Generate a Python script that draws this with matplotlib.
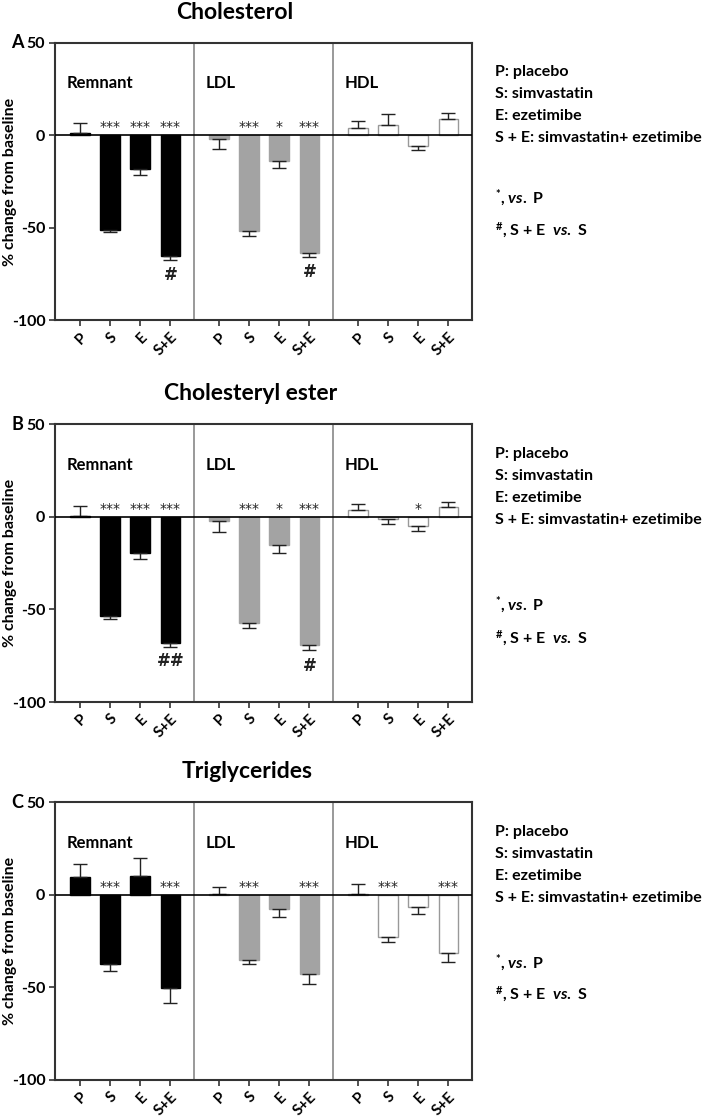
import matplotlib
matplotlib.use("Agg")
import matplotlib.pyplot as plt
import numpy as np

plt.rcParams['font.family'] = ['Lato', 'DejaVu Sans']
plt.rcParams['mathtext.fontset'] = 'custom'
plt.rcParams['mathtext.rm'] = 'Lato:bold'
plt.rcParams['mathtext.it'] = 'Lato:italic:bold'
plt.rcParams['mathtext.bf'] = 'Lato:bold'

treatments = ["P", "S", "E", "S+E"]
fractions = ["Remnant", "LDL", "HDL"]
panel_titles = ["Cholesterol", "Cholesteryl ester", "Triglycerides"]
panel_letters = ["A", "B", "C"]

# mean % change, per panel -> fraction -> treatment
means = [
    [[1.3, -51.2, -18.5, -65.3], [-2.0, -51.8, -14.0, -63.8], [3.9, 5.4, -5.8, 8.5]],
    [[0.7, -53.6, -19.7, -68.3], [-2.3, -57.2, -15.3, -69.2], [3.6, -1.4, -5.0, 5.1]],
    [[9.4, -37.2, 10.1, -50.3], [0.5, -35.0, -7.9, -42.6], [0.5, -23.0, -6.6, -31.6]],
]
errors = [
    [[5.4, 1.2, 3.2, 2.1], [5.2, 2.5, 3.6, 2.2], [3.5, 5.8, 2.3, 3.5]],
    [[5.4, 1.4, 3.3, 1.8], [5.8, 2.7, 4.1, 2.7], [3.2, 2.7, 2.7, 3.0]],
    [[7.2, 4.0, 9.9, 8.0], [3.8, 2.2, 4.0, 5.7], [5.5, 2.5, 4.0, 4.7]],
]
stars = [
    [["", "***", "***", "***"], ["", "***", "*", "***"], ["", "", "", ""]],
    [["", "***", "***", "***"], ["", "***", "*", "***"], ["", "", "*", ""]],
    [["", "***", "", "***"], ["", "***", "", "***"], ["", "***", "", "***"]],
]
hashes = [
    [["", "", "", "#"], ["", "", "", "#"], ["", "", "", ""]],
    [["", "", "", "##"], ["", "", "", "#"], ["", "", "", ""]],
    [["", "", "", ""], ["", "", "", ""], ["", "", "", ""]],
]
hash_y = [[-75.5, -73.7], [-77.8, -80.4], [0, 0]]

legend_lines = ["P: placebo", "S: simvastatin", "E: ezetimibe", "S + E: simvastatin+ ezetimibe"]
note_y = [(-34, -51.5), (-48, -65.5), (-37, -54)]
title_x = [0.43, 0.47, 0.46]

face_colors = ["black", "#a3a3a3", "white"]
edge_colors = ["black", "#a3a3a3", "#999999"]

fig = plt.figure(figsize=(7.09, 11.18), dpi=100)
axes_bottoms = [0.7134, 0.372, 0.034]

group_w = 4.6
for p in range(3):
    ax = fig.add_axes([0.0776, axes_bottoms[p], 0.588, 0.2485])
    xticks = []
    for g in range(3):
        xs = g * group_w + 0.82 + np.arange(4)
        xticks += list(xs)
        m = np.array(means[p][g])
        e = np.array(errors[p][g])
        ax.bar(xs, m, width=0.65, color=face_colors[g], edgecolor=edge_colors[g], linewidth=1.0, zorder=2)
        lower = np.where(m < 0, e, 0)
        upper = np.where(m >= 0, e, 0)
        ax.errorbar(xs, m, yerr=[lower, upper], fmt="none", ecolor="#222222", elinewidth=1.0,
                    capsize=5, capthick=1.0, zorder=3)
        for i in range(4):
            if stars[p][g][i]:
                ax.text(xs[i], 0.6, stars[p][g][i], ha="center", va="bottom", fontsize=10,
                        color="#222222", family="DejaVu Sans")
            if hashes[p][g][i]:
                ax.text(xs[i], hash_y[p][g], hashes[p][g][i], ha="center", va="center", fontsize=12,
                        fontweight="bold", color="#222222", family="DejaVu Sans")
        ax.text(g * group_w + 0.4, 28, fractions[g], ha="left", va="center", fontsize=12, fontweight="bold")
        if g > 0:
            ax.axvline(g * group_w, color="#888888", linewidth=1.2, zorder=1)
    ax.axhline(0, color="black", linewidth=1.2, zorder=4)
    ax.set_xlim(0, 3 * group_w)
    ax.set_ylim(-100, 50)
    ax.set_yticks([50, 0, -50, -100])
    ax.set_yticklabels(["50", "0", "-50", "-100"], fontsize=11.5, fontweight="bold")
    ax.set_xticks(xticks)
    ax.set_xticklabels(treatments * 3, rotation=45, ha="right", rotation_mode="anchor",
                       fontsize=11, fontweight="bold")
    ax.tick_params(axis="both", length=4, width=1.2, color="#333333", pad=3)
    for s in ax.spines.values():
        s.set_linewidth(1.5)
        s.set_color("#333333")
    ax.set_ylabel("% change from baseline", fontsize=11.5, fontweight="bold")
    ax.yaxis.set_label_coords(-0.092, 0.5)
    ax.text(title_x[p], 1.11, panel_titles[p], transform=ax.transAxes, ha="center", va="center",
            fontsize=16.5, fontweight="bold")
    ax.text(-0.105, 1.0, panel_letters[p], transform=ax.transAxes, ha="left", va="center",
            fontsize=13, fontweight="bold")
    for k, line in enumerate(legend_lines):
        ax.text(1.055, 34 - k * 11.9, line, ha="left", va="center", fontsize=11.5, fontweight="bold",
                transform=ax.get_yaxis_transform())
    ax.text(1.055, note_y[p][0], r"$^{*}$, $\mathit{vs.}$ P", ha="left", va="center", fontsize=11.5,
            fontweight="bold", transform=ax.get_yaxis_transform())
    ax.text(1.055, note_y[p][1], r"$^{\#}$, S + E  $\mathit{vs.}$ S", ha="left", va="center", fontsize=11.5,
            fontweight="bold", transform=ax.get_yaxis_transform())

fig.savefig("out.png", dpi=100)
